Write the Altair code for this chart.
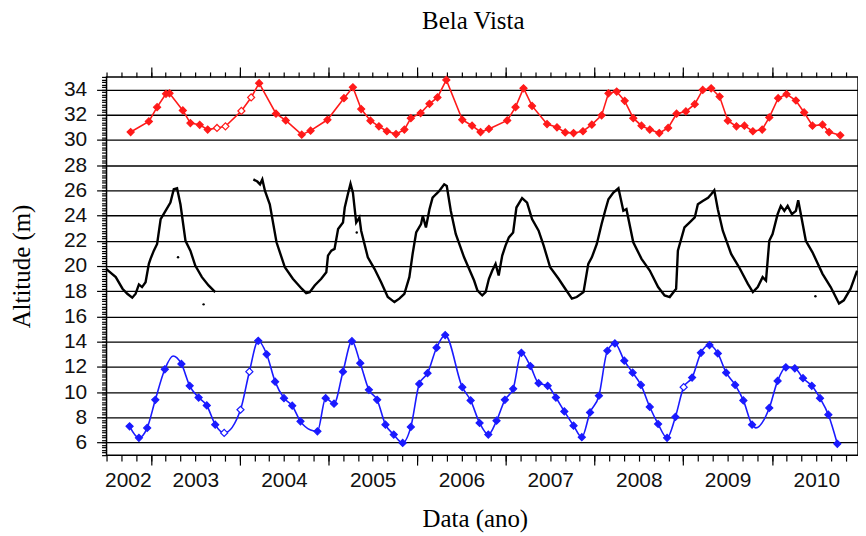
import altair as alt
import pandas as pd

# ---------------- data ----------------
red_t = [2002.772, 2002.977, 2003.07, 2003.17, 2003.21, 2003.36, 2003.445, 2003.55, 2003.64,
         2003.745, 2003.84, 2004.02, 2004.13, 2004.22, 2004.41, 2004.52, 2004.70, 2004.80,
         2004.99, 2005.176, 2005.277, 2005.37, 2005.475, 2005.57, 2005.66, 2005.763, 2005.857,
         2005.93, 2006.04, 2006.14, 2006.23, 2006.33, 2006.51, 2006.62, 2006.716, 2006.81,
         2007.016, 2007.11, 2007.2, 2007.296, 2007.465, 2007.577, 2007.67, 2007.764, 2007.87,
         2007.97, 2008.08, 2008.157, 2008.25, 2008.34, 2008.437, 2008.53, 2008.623, 2008.73,
         2008.83, 2008.925, 2009.03, 2009.13, 2009.22, 2009.315, 2009.41, 2009.503, 2009.6,
         2009.69, 2009.785, 2009.89, 2009.97, 2010.07, 2010.165, 2010.27, 2010.363, 2010.457,
         2010.57, 2010.644, 2010.77]
red_v = [30.63, 31.47, 32.6, 33.66, 33.7, 32.34, 31.34, 31.2, 30.82,
         30.95, 31.08, 32.3, 33.37, 34.5, 32.08, 31.55, 30.42, 30.74,
         31.6, 33.31, 34.18, 32.45, 31.53, 31.08, 30.69, 30.47, 30.82,
         31.73, 32.13, 32.87, 33.37, 34.76, 31.6, 31.13, 30.63, 30.87,
         31.55, 32.6, 34.1, 32.7, 31.26, 31.0, 30.6, 30.55, 30.69,
         31.21, 31.95, 33.7, 33.84, 33.1, 31.73, 31.13, 30.82, 30.55,
         30.95, 32.08, 32.26, 32.84, 33.97, 34.1, 33.44, 31.53, 31.08,
         31.13, 30.69, 30.82, 31.79, 33.31, 33.63, 33.13, 32.18, 31.13,
         31.21, 30.63, 30.37]
red_open = [0, 0, 0, 0, 0, 0, 0, 0, 0,
            1, 1, 1, 1] + [0] * 62

blue_t = [2002.76, 2002.865, 2002.958, 2003.05, 2003.157, 2003.344, 2003.437, 2003.538, 2003.63,
          2003.725, 2003.826, 2004.01, 2004.11, 2004.21, 2004.305, 2004.4, 2004.5, 2004.593,
          2004.686, 2004.877, 2004.97, 2005.064, 2005.165, 2005.266, 2005.36, 2005.457, 2005.55,
          2005.644, 2005.737, 2005.838, 2005.93, 2006.025, 2006.118, 2006.22, 2006.317, 2006.51,
          2006.604, 2006.705, 2006.803, 2006.896, 2006.99, 2007.083, 2007.176, 2007.277, 2007.37,
          2007.472, 2007.565, 2007.66, 2007.764, 2007.857, 2007.95, 2008.05, 2008.145, 2008.23,
          2008.336, 2008.43, 2008.523, 2008.623, 2008.717, 2008.818, 2008.912, 2009.005, 2009.1,
          2009.2, 2009.296, 2009.39, 2009.484, 2009.585, 2009.678, 2009.776, 2009.97, 2010.064,
          2010.157, 2010.258, 2010.35, 2010.449, 2010.542, 2010.636, 2010.737]
blue_v = [7.29, 6.37, 7.16, 9.39, 11.81, 12.23, 10.5, 9.57, 8.94,
          7.42, 6.76, 8.6, 11.62, 14.07, 13.0, 10.83, 9.52, 8.92,
          7.68, 6.89, 9.52, 9.08, 11.62, 14.04, 12.29, 10.18, 9.39,
          7.42, 6.63, 5.97, 7.24, 10.65, 11.5, 13.52, 14.52, 10.39,
          9.34, 7.55, 6.63, 7.73, 9.39, 10.26, 13.12, 12.07, 10.71,
          10.5, 9.57, 8.47, 7.34, 6.42, 8.39, 9.71, 13.28, 13.86,
          12.49, 11.54, 10.57, 8.82, 7.47, 6.37, 8.03, 10.39, 11.15,
          13.12, 13.73, 13.07, 11.54, 10.57, 9.34, 7.42, 8.74, 10.89,
          11.97, 11.89, 11.1, 10.5, 9.52, 8.21, 5.9]
blue_open = [0] * 10 + [1, 1, 1] + [0] * 48 + [1] + [0] * 17
# points where the drawn curve departs from the markers
blue_curve_t = [2003.25, 2004.80, 2009.82]
blue_curve_v = [12.86, 7.0, 7.16]

black_t = [2002.495, 2002.604, 2002.68, 2002.734, 2002.79, 2002.828, 2002.865, 2002.9, 2002.94,
           2002.977, 2002.996, 2003.033, 2003.07, 2003.11, 2003.165, 2003.22, 2003.258, 2003.295,
           2003.333, 2003.39, 2003.445, 2003.5, 2003.575, 2003.65, 2003.725,
           2004.155, 2004.2, 2004.23, 2004.256, 2004.286, 2004.34, 2004.416, 2004.51, 2004.6,
           2004.7, 2004.75, 2004.79, 2004.846, 2004.92, 2004.977, 2004.996, 2005.034, 2005.07,
           2005.11, 2005.165, 2005.185, 2005.22, 2005.25, 2005.277, 2005.314, 2005.35, 2005.37,
           2005.445, 2005.52, 2005.595, 2005.67, 2005.745, 2005.8, 2005.857, 2005.913, 2005.95,
           2005.99, 2006.045, 2006.065, 2006.1, 2006.14, 2006.175, 2006.212, 2006.25, 2006.306,
           2006.335, 2006.38, 2006.436, 2006.53, 2006.643, 2006.68, 2006.716, 2006.735, 2006.773,
           2006.81, 2006.848, 2006.885, 2006.92, 2006.96, 2006.997, 2007.035, 2007.083, 2007.12,
           2007.184, 2007.24, 2007.296, 2007.37, 2007.427, 2007.5, 2007.595, 2007.67, 2007.745,
           2007.8, 2007.876, 2007.93, 2007.97, 2008.026, 2008.08, 2008.12, 2008.157, 2008.213,
           2008.27, 2008.325, 2008.36, 2008.437, 2008.53, 2008.623, 2008.717, 2008.79, 2008.848,
           2008.92, 2008.94, 2009.014, 2009.07, 2009.13, 2009.165, 2009.22, 2009.28, 2009.315,
           2009.35, 2009.39, 2009.446, 2009.54, 2009.63, 2009.727, 2009.785, 2009.84, 2009.895,
           2009.933, 2009.97, 2010.007, 2010.064, 2010.1, 2010.14, 2010.177, 2010.225, 2010.27,
           2010.296, 2010.326, 2010.382, 2010.457, 2010.57, 2010.662, 2010.756, 2010.81, 2010.887,
           2010.96]
black_v = [19.78, 19.12, 18.2, 17.8, 17.49, 17.8, 18.54, 18.33, 18.72,
           20.17, 20.57, 21.22, 21.75, 23.72, 24.38, 25.03, 26.09, 26.17,
           24.9, 22.0, 21.22, 20.04, 19.12, 18.46, 17.93,
           26.87, 26.7, 26.48, 26.87, 25.95, 24.9, 21.88, 19.9, 18.99,
           18.2, 17.85, 17.93, 18.46, 18.99, 19.51, 20.83, 21.22, 21.36,
           22.93, 23.45, 24.64, 25.69, 26.53, 25.82, 23.45, 23.85, 22.8,
           20.69, 19.78, 18.72, 17.54, 17.14, 17.41, 17.8, 19.12, 20.96,
           22.66, 23.33, 23.98, 23.06, 24.51, 25.42, 25.69, 25.95, 26.48,
           26.35, 24.38, 22.54, 20.69, 18.85, 18.07, 17.8, 17.67, 17.93,
           18.99, 19.64, 20.17, 19.25, 20.83, 21.62, 22.27, 22.66, 24.64,
           25.38, 25.03, 23.72, 22.8, 21.62, 19.9, 18.99, 18.2, 17.41,
           17.54, 17.93, 20.17, 20.69, 21.75, 23.33, 24.38, 25.3, 25.82,
           26.17, 24.38, 24.51, 21.88, 20.57, 19.64, 18.33, 17.67, 17.54,
           18.2, 21.22, 23.06, 23.45, 23.85, 24.9, 25.16, 25.42, 25.69,
           26.0, 24.51, 22.8, 20.96, 19.9, 18.6, 17.93, 18.33, 19.12,
           18.85, 22.0, 22.54, 24.11, 24.77, 24.38, 24.77, 24.11, 24.38,
           25.22, 24.11, 22.0, 21.09, 19.38, 18.33, 17.02, 17.28, 18.2,
           19.64]
black_out_t = [2003.306, 2003.594, 2005.32, 2010.49]
black_out_v = [20.69, 16.96, 22.66, 17.6]

year_ticks = [2003, 2004, 2005, 2006, 2007, 2008, 2009, 2010]
year_label_pos = [2002.74, 2003.5, 2004.5, 2005.5, 2006.5, 2007.5, 2008.5, 2009.5, 2010.5]
y_major = [6, 8, 10, 12, 14, 16, 18, 20, 22, 24, 26, 28, 30, 32, 34]

# ---------------- tables ----------------
red_df = pd.DataFrame({"t": red_t, "v": red_v, "open": red_open})
blue_pts = pd.DataFrame({"t": blue_t, "v": blue_v, "open": blue_open})
blue_line = pd.concat([blue_pts[["t", "v"]],
                       pd.DataFrame({"t": blue_curve_t, "v": blue_curve_v})]).sort_values("t")
black_df = pd.DataFrame({"t": black_t, "v": black_v})
black_df["seg"] = (black_df["t"].diff() > 0.2).cumsum()
black_out = pd.DataFrame({"t": black_out_t, "v": black_out_v})

minor_x = [round(2002.5 + k / 6, 4) for k in range(0, 51)]
minor_y = [round(5 + 0.2 * k, 2) for k in range(0, 151)]

X0, X1 = 2002.5, 2010.97
xs = alt.Scale(domain=[X0, X1], nice=False, zero=False)
ys = alt.Scale(domain=[5, 35], nice=False, zero=False)

SANS = "Liberation Sans"
SERIF = "Liberation Serif"

common = dict(domain=False, grid=False, tickColor="black", tickWidth=1.2, title=None)

ax_bottom_minor = alt.Axis(orient="bottom", values=minor_x, labels=False, tickSize=6, **common)
ax_top_minor = alt.Axis(orient="top", values=minor_x, labels=False, tickSize=5, **common)
ax_bottom_major = alt.Axis(orient="bottom", values=year_ticks, labels=False, tickSize=10, **common)
ax_top_major = alt.Axis(orient="top", values=year_ticks, labels=False, tickSize=10,
                        domain=False, grid=False, tickColor="black", tickWidth=1.2,
                        title="Bela Vista", titleFont=SERIF, titleFontSize=25,
                        titleFontWeight="normal", titleColor="black",
                        titleX=368, titleY=-49, titleBaseline="alphabetic")
ax_labels = alt.Axis(orient="bottom", values=year_label_pos, labelExpr="'' + floor(datum.value)",
                     ticks=False, tickSize=0, domain=False, grid=False,
                     labelFont=SANS, labelFontSize=21, labelColor="#111",
                     labelPadding=32, labelBaseline="alphabetic", labelFlush=False,
                     labelOverlap=False,
                     title="Data (ano)", titleFont=SERIF, titleFontSize=25,
                     titleFontWeight="normal", titleColor="black",
                     titleX=370, titleY=72, titleBaseline="alphabetic")

ax_y_minor = alt.Axis(orient="left", values=minor_y, labels=False, tickSize=5, **common)
ax_y_major = alt.Axis(orient="left", values=y_major, tickSize=10, domain=False,
                      grid=True, gridColor="black", gridWidth=1.3, gridOpacity=1,
                      tickColor="black", tickWidth=1.2,
                      labelFont=SANS, labelFontSize=21, labelColor="#111", labelPadding=10,
                      labelOverlap=False, labelFlush=False,
                      title="Altitude (m)", titleFont=SERIF, titleFontSize=25,
                      titleFontWeight="normal", titleColor="black",
                      titleAngle=270, titleX=-85, titleY=190, titleBaseline="middle")

RED = "#ff1a1a"
BLUE = "#1a1aff"

red_line = alt.Chart(red_df).mark_line(color=RED, strokeWidth=1.6).encode(
    x=alt.X("t:Q", scale=xs, axis=ax_bottom_minor),
    y=alt.Y("v:Q", scale=ys, axis=ax_y_minor),
)
red_pts = alt.Chart(red_df).mark_point(shape="diamond", filled=True, size=50, stroke=RED,
                                       strokeWidth=1.2, opacity=1).encode(
    x=alt.X("t:Q", scale=xs, axis=ax_top_minor),
    y=alt.Y("v:Q", scale=ys, axis=None),
    fill=alt.condition("datum.open == 1", alt.value("white"), alt.value(RED)),
)
black_line = alt.Chart(black_df).mark_line(color="black", strokeWidth=2.4).encode(
    x=alt.X("t:Q", scale=xs, axis=ax_bottom_major),
    y=alt.Y("v:Q", scale=ys, axis=ax_y_major),
    detail="seg:N",
)
black_dots = alt.Chart(black_out).mark_point(filled=True, size=6, color="black", opacity=1).encode(
    x=alt.X("t:Q", scale=xs, axis=ax_top_major),
    y=alt.Y("v:Q", scale=ys, axis=None),
)
blue_ln = alt.Chart(blue_line).mark_line(color=BLUE, strokeWidth=1.6, interpolate="monotone").encode(
    x=alt.X("t:Q", scale=xs, axis=ax_labels),
    y=alt.Y("v:Q", scale=ys, axis=None),
)
blue_mk = alt.Chart(blue_pts).mark_point(shape="diamond", filled=True, size=50, stroke=BLUE,
                                         strokeWidth=1.2, opacity=1).encode(
    x=alt.X("t:Q", scale=xs, axis=None),
    y=alt.Y("v:Q", scale=ys, axis=None),
    fill=alt.condition("datum.open == 1", alt.value("white"), alt.value(BLUE)),
)

chart = alt.layer(red_line, red_pts, black_line, black_dots, blue_ln, blue_mk).resolve_axis(
    x="independent", y="independent"
).properties(
    width=755, height=380,
    padding={"left": 99, "top": 68, "right": 0, "bottom": 80},
    autosize=alt.AutoSizeParams(type="none"),
    background="white",
).configure_view(stroke="black", strokeWidth=1.5)

chart.save("out.html", embed_options={"renderer": "svg", "actions": False})
